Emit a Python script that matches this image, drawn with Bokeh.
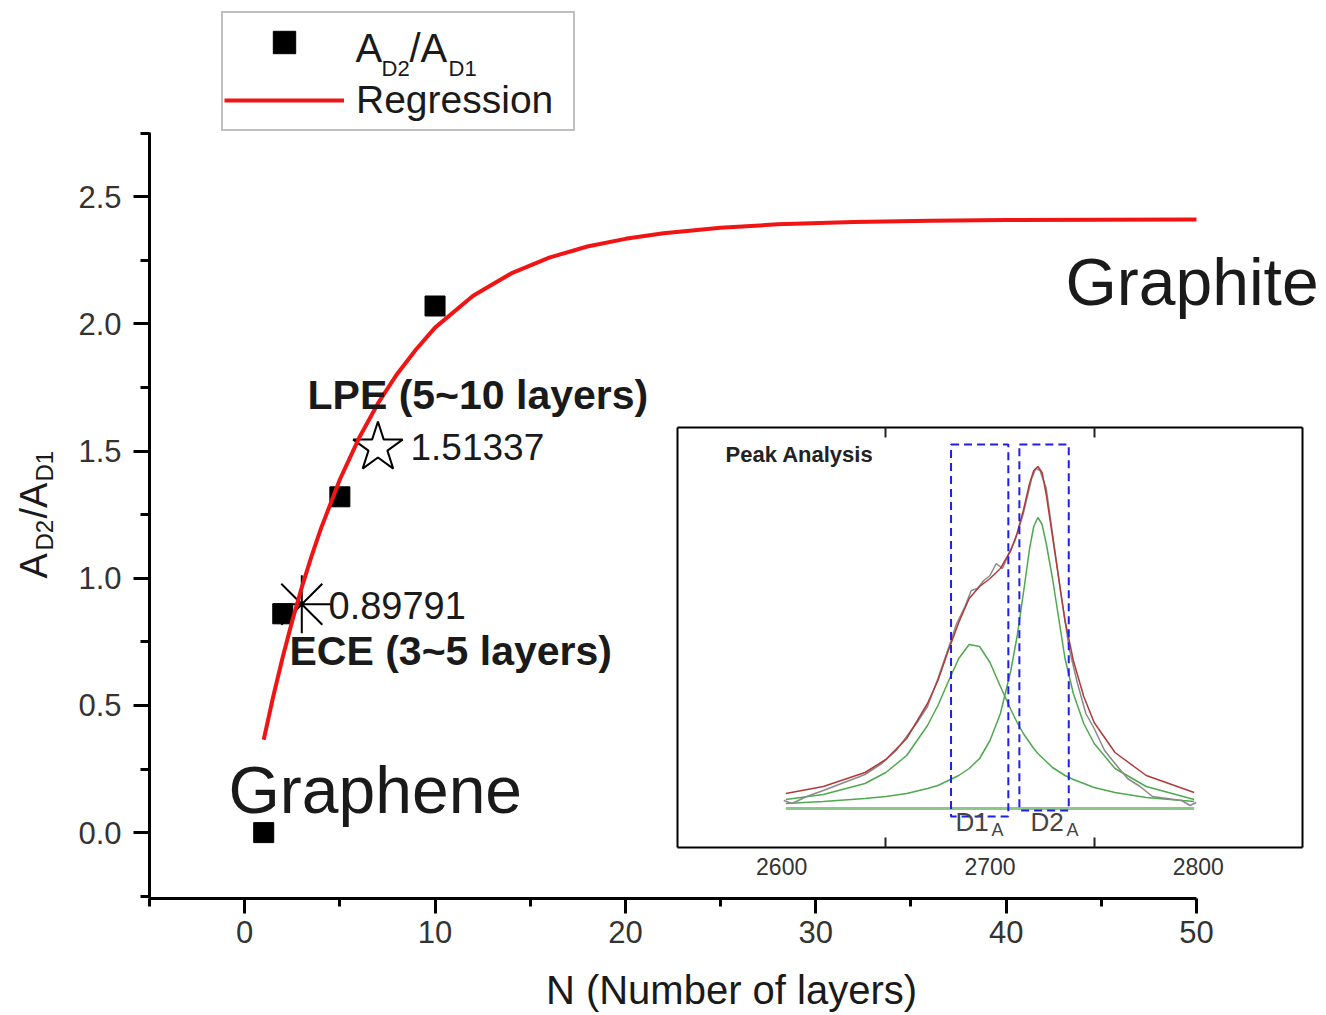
from bokeh.plotting import figure
from bokeh.models import (Range1d, FixedTicker, Label, Legend, LegendItem,
                          LinearAxis, NumeralTickFormatter)
from bokeh.embed import file_html
from bokeh.resources import INLINE

FONT = "Liberation Sans"
TXT = "#1a1a1a"
TICK = "#333333"
RED = "#f01414"

# ---------------- main chart data ----------------
layers = [1, 2, 5, 10]
ratio = [0.0, 0.86, 1.32, 2.07]
lpe_x = [7]
lpe_y = [1.51337]
ece_x = [3]
ece_y = [0.89791]
reg_x = [1, 1.5, 2, 2.5, 3, 3.5, 4, 5, 6, 7, 8, 9, 10, 12, 14, 16, 18, 20,
         22, 25, 28, 32, 36, 40, 45, 50]
reg_y = [0.365, 0.535, 0.690, 0.833, 0.964, 1.084, 1.194, 1.388, 1.550,
         1.687, 1.802, 1.899, 1.985, 2.110, 2.198, 2.260, 2.304, 2.334,
         2.356, 2.378, 2.391, 2.400, 2.405, 2.408, 2.409, 2.410]
x_major = [0, 10, 20, 30, 40, 50]
x_minor = [-5, 5, 15, 25, 35, 45]
y_major = [0.0, 0.5, 1.0, 1.5, 2.0, 2.5]
y_minor = [-0.25, 0.25, 0.75, 1.25, 1.75, 2.25, 2.75]

# ---------------- inset data ----------------
w_fit = [2602, 2620, 2640, 2650, 2660, 2670, 2675, 2680, 2685, 2690, 2695,
         2700, 2705, 2710, 2713, 2716, 2719, 2721, 2723, 2725, 2727, 2730,
         2733, 2736, 2740, 2745, 2750, 2760, 2775, 2798]
d1_fit = [0.09, 0.14, 0.25, 0.36, 0.53, 0.83, 1.03, 1.27, 1.50, 1.64, 1.62,
          1.46, 1.22, 0.99, 0.86, 0.75, 0.66, 0.60, 0.55, 0.51, 0.47, 0.41,
          0.37, 0.33, 0.29, 0.25, 0.21, 0.16, 0.11, 0.07]
d2_fit = [0.05, 0.07, 0.10, 0.12, 0.15, 0.20, 0.23, 0.28, 0.33, 0.40, 0.50,
          0.68, 0.95, 1.38, 1.72, 2.15, 2.60, 2.82, 2.91, 2.84, 2.65, 2.30,
          1.90, 1.50, 1.15, 0.85, 0.65, 0.40, 0.22, 0.09]
sum_fit = [0.15, 0.22, 0.36, 0.49, 0.70, 1.05, 1.28, 1.58, 1.86, 2.10, 2.22,
           2.30, 2.40, 2.58, 2.75, 2.98, 3.25, 3.38, 3.42, 3.36, 3.14, 2.72,
           2.30, 1.88, 1.48, 1.12, 0.86, 0.56, 0.33, 0.16]
w_data = [2601, 2605, 2612, 2620, 2630, 2640, 2648, 2655, 2660, 2665, 2670,
          2675, 2680, 2684, 2688, 2691, 2694, 2697, 2700, 2703, 2706, 2709,
          2712, 2716, 2720, 2722, 2724, 2727, 2730, 2734, 2738, 2742, 2746,
          2750, 2755, 2760, 2766, 2772, 2778, 2785, 2792, 2796, 2799]
i_data = [0.08, 0.05, 0.12, 0.18, 0.26, 0.34, 0.45, 0.58, 0.72, 0.86, 1.02,
          1.30, 1.60, 1.85, 2.02, 2.18, 2.20, 2.28, 2.33, 2.45, 2.40, 2.55,
          2.68, 2.95, 3.30, 3.40, 3.38, 3.20, 2.75, 2.15, 1.60, 1.25, 0.95,
          0.80, 0.58, 0.45, 0.30, 0.22, 0.12, 0.10, 0.08, 0.03, 0.06]
w_base = [2602, 2798]
i_base = [0.0, 0.0]
box_left = [2681.3, 2714.1]
box_right = [2708.8, 2737.8]
box_top = [3.64, 3.64]
box_bottom = [-0.08, -0.02]
ins_ticks = [2600, 2700, 2800]
ins_minor = [2650, 2750]
ins_w_bounds = (2550.0, 2850.0)
ins_i_bounds = (-0.39, 3.81)

# ---------------- geometry (screen layout) ----------------
W, H = 1326, 1015
X0, X1 = -5.0, 50.0          # main axis extent
Y0, Y1 = -0.259, 2.752
AX_L, AX_R, AX_T, AX_B = 149, 1196, 132, 898   # pixel extent of main axes
XS = (AX_R - AX_L) / (X1 - X0)
YS = (AX_B - AX_T) / (Y1 - Y0)
XR0 = X0 - AX_L / XS
XR1 = XR0 + W / XS
YR0 = Y0 - (H - AX_B) / YS
YR1 = YR0 + H / YS

IN_L, IN_R, IN_T, IN_B = 677, 1302, 427, 847   # pixel extent of inset box
IXS = (IN_R - IN_L) / (ins_w_bounds[1] - ins_w_bounds[0])
IYS = (IN_B - IN_T) / (ins_i_bounds[1] - ins_i_bounds[0])
IXR0 = ins_w_bounds[0] - IN_L / IXS
IXR1 = IXR0 + W / IXS
IYR0 = ins_i_bounds[0] - (H - IN_B) / IYS
IYR1 = IYR0 + H / IYS

BASE_FIX = 0.355   # renderer places the alphabetic baseline this many em low


def dx(px):
    return XR0 + px / XS


def dy(py):
    return YR0 + (H - py) / YS


def ix(px):
    return IXR0 + px / IXS


def iy(py):
    return IYR0 + (H - py) / IYS


p = figure(width=W, height=H, x_range=Range1d(XR0, XR1),
           y_range=Range1d(YR0, YR1), output_backend="svg",
           toolbar_location=None, x_axis_location=None, y_axis_location=None,
           min_border=0, min_border_left=0, min_border_right=0,
           min_border_top=0, min_border_bottom=0)
p.extra_x_ranges = {"inset": Range1d(IXR0, IXR1)}
p.extra_y_ranges = {"inset": Range1d(IYR0, IYR1)}
p.xgrid.visible = False
p.ygrid.visible = False
p.outline_line_color = None
p.background_fill_color = "white"
p.border_fill_color = "white"

# ---- main axes (placed at fixed locations inside the full-canvas frame)
xa = LinearAxis(fixed_location=Y0, bounds=(X0, X1),
                ticker=FixedTicker(ticks=x_major, minor_ticks=x_minor),
                formatter=NumeralTickFormatter(format="0"))
ya = LinearAxis(fixed_location=X0, bounds=(Y0, Y1),
                ticker=FixedTicker(ticks=y_major, minor_ticks=y_minor),
                formatter=NumeralTickFormatter(format="0.0"))
for ax, tout, mout, stand in ((xa, 15, 8, 7), (ya, 16, 9, 12)):
    ax.axis_line_width = 3
    ax.axis_line_color = "black"
    ax.major_tick_line_width = 3
    ax.minor_tick_line_width = 3
    ax.major_tick_in = 0
    ax.minor_tick_in = 0
    ax.major_tick_out = tout
    ax.minor_tick_out = mout
    ax.major_label_standoff = stand
    ax.major_label_text_font = FONT
    ax.major_label_text_font_size = "31px"
    ax.major_label_text_color = TICK
p.add_layout(xa, "below")
p.add_layout(ya, "left")

# ---- main marks
sq = p.scatter(layers, ratio, marker="square", size=20, color="black")
p.scatter(lpe_x, lpe_y, marker="star", size=52, fill_color="white",
          line_color="black", line_width=2)
p.scatter(ece_x, ece_y, marker="asterisk", size=58, line_color="black",
          line_width=2)
ln = p.line(reg_x, reg_y, line_color=RED, line_width=4)

# legend (transparent background so the subscripted entry text shows)
legend = Legend(items=[LegendItem(label="", renderers=[sq]),
                       LegendItem(label="Regression", renderers=[ln])],
                location=(221, H - 131),
                glyph_width=120, glyph_height=56, label_height=56,
                label_width=216, label_standoff=12, padding=1, spacing=2,
                label_text_font=FONT, label_text_font_size="39px",
                label_text_color=TXT, border_line_color="#808080",
                border_line_width=2, background_fill_color=None,
                background_fill_alpha=0.0)
p.add_layout(legend)


def lab(text, px, py, size, bold=False, align="left", angle=0, color=TXT,
        inset=False):
    """px, py: pixel position of the text's alphabetic baseline start."""
    if angle == 0:
        py = py - BASE_FIX * size
    else:
        px = px - BASE_FIX * size
    if inset:
        kw = dict(x=ix(px), y=iy(py), x_range_name="inset",
                  y_range_name="inset")
    else:
        kw = dict(x=dx(px), y=dy(py))
    p.add_layout(Label(text=text, text_font=FONT,
                       text_font_size=f"{size}px",
                       text_font_style="bold" if bold else "normal",
                       text_align=align, text_baseline="alphabetic",
                       angle=angle, angle_units="deg", text_color=color,
                       **kw))


# legend entry text with subscripts
lab("A", 355, 62, 40)
lab("D2", 381, 76, 22)
lab("/A", 409, 62, 40)
lab("D1", 448, 76, 22)

# y axis title (rotated, with subscripts)
lab("A", 47, 578, 38, angle=90)
lab("D2", 53, 550, 24, angle=90)
lab("/A", 47, 518, 38, angle=90)
lab("D1", 53, 481, 24, angle=90)

# x axis title
lab("N (Number of layers)", 731, 1004, 40, align="center")

# annotations
lab("Graphite", 1065, 305, 66)
lab("Graphene", 228, 813, 66)
lab("LPE (5~10 layers)", 307, 409, 41, bold=True)
lab("1.51337", 410, 460, 37)
lab("0.89791", 328, 618, 38)
lab("ECE (3~5 layers)", 289, 665, 41, bold=True)

# ---------------- inset (drawn on extra ranges) ----------------
R = dict(x_range_name="inset", y_range_name="inset")
p.line(w_base, i_base, line_color="#8cc68c", line_width=3, **R)
p.line(w_fit, d1_fit, line_color="#4fa84f", line_width=1.5, **R)
p.line(w_fit, d2_fit, line_color="#4fa84f", line_width=1.5, **R)
p.line(w_data, i_data, line_color="#8a8a8a", line_width=1.5, **R)
p.line(w_fit, sum_fit, line_color="#b03a3a", line_width=1.5, **R)
p.quad(left=box_left, right=box_right, top=box_top, bottom=box_bottom,
       fill_color=None, line_color="#1f1fe6", line_width=2,
       line_dash="8 5", **R)

ib = LinearAxis(fixed_location=ins_i_bounds[0], bounds=ins_w_bounds,
                ticker=FixedTicker(ticks=ins_ticks, minor_ticks=ins_minor), **R)
it = LinearAxis(fixed_location=ins_i_bounds[1], bounds=ins_w_bounds,
                ticker=FixedTicker(ticks=[], minor_ticks=ins_minor), **R)
il = LinearAxis(fixed_location=ins_w_bounds[0], bounds=ins_i_bounds,
                ticker=FixedTicker(ticks=[], minor_ticks=[]), **R)
ir = LinearAxis(fixed_location=ins_w_bounds[1], bounds=ins_i_bounds,
                ticker=FixedTicker(ticks=[], minor_ticks=[]), **R)
for ax in (ib, it, il, ir):
    ax.axis_line_color = "black"
    ax.axis_line_width = 2
    ax.major_tick_in = 0
    ax.major_tick_out = 0
    ax.minor_tick_in = 10
    ax.minor_tick_out = 0
    ax.minor_tick_line_width = 2
    ax.minor_tick_line_color = "#222222"
    ax.major_label_text_font = FONT
    ax.major_label_text_font_size = "23px"
    ax.major_label_text_color = TICK
    ax.major_label_standoff = 10
p.add_layout(ib, "below")
p.add_layout(it, "above")
p.add_layout(il, "left")
p.add_layout(ir, "right")

lab("Peak Analysis", 725, 462, 22, bold=True, color="#222222", inset=True)
lab("D1", 955, 831, 26, color="#444444", inset=True)
lab("A", 991, 836, 18, color="#444444", inset=True)
lab("D2", 1030, 831, 26, color="#444444", inset=True)
lab("A", 1066, 836, 18, color="#444444", inset=True)

open("out.html", "w").write(file_html(p, INLINE))
